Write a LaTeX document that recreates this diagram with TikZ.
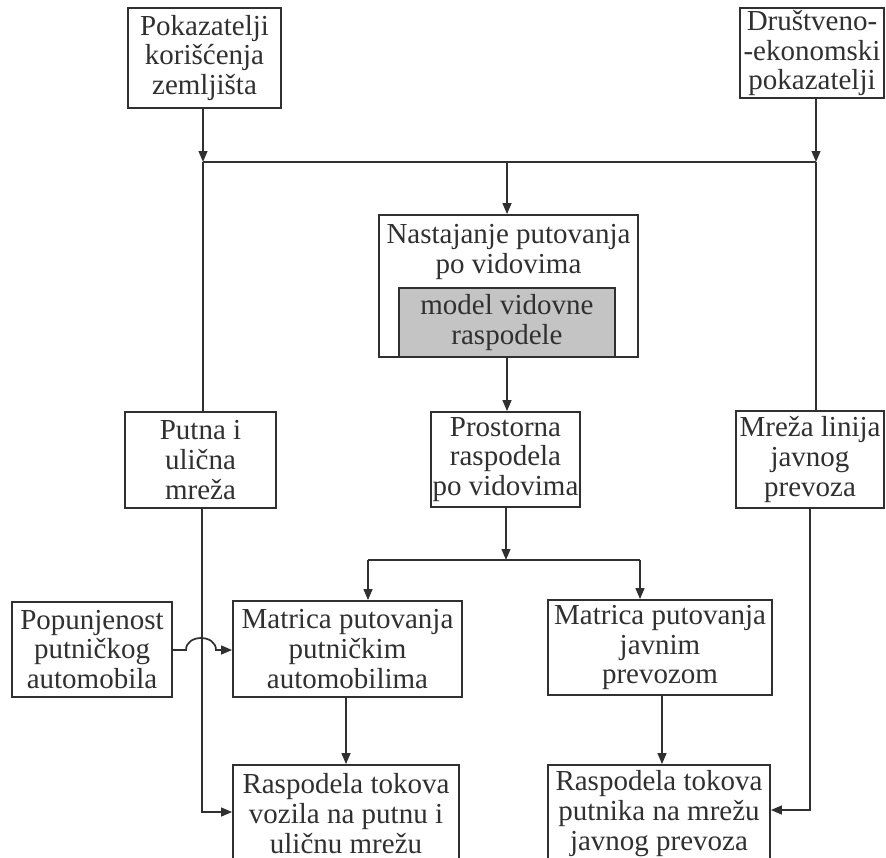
\documentclass[tikz,border=0pt]{standalone}
\usepackage{fontspec}
\setmainfont{Liberation Serif}
\usetikzlibrary{arrows.meta}
\definecolor{ink}{HTML}{303030}
\definecolor{screen}{HTML}{C4C4C4}
\tikzset{
  box/.style={draw=ink, line width=0.85pt, text=ink, align=center, inner sep=0pt,
    font=\fontsize{14.5}{14.8}\selectfont},
  sz/.style 2 args={minimum width=#1*0.5pt, minimum height=#2*0.5pt},
  txt/.style={text=ink, align=center, inner sep=0pt, font=\fontsize{14.5}{14.8}\selectfont},
  link/.style={draw=ink, line width=0.85pt},
  arr/.style={link, -{Triangle[length=5.5pt,width=4.4pt]}},
}
\begin{document}
\begin{tikzpicture}[x=0.5pt,y=-0.5pt]
\useasboundingbox (0,0) rectangle (886,857);
\fill[white] (0,0) rectangle (886,857);
\clip (0,0) rectangle (886,857);

% top inputs
\node[box, sz={153}{100}] (pok) at (204.5,58) {Pokazatelji\\korišćenja\\zemljišta};
\node[box, sz={144}{90}] (dru) at (812,53) {Društveno-\\-ekonomski\\pokazatelji};

% mode split stage with its model
\node[box, sz={259}{142}] (nas) at (508.5,286) {};
\node[txt] (nastxt) at (508.5,252) {Nastajanje putovanja\\po vidovima};
\node[box, fill=screen, sz={216}{69}] (mod) at (507,322.5) {model vidovne\\raspodele};

% middle row
\node[box, sz={151}{96}] (put) at (200.5,460) {Putna i\\ulična\\mreža};
\node[box, sz={149}{95}] (pro) at (505.5,459.5) {Prostorna\\raspodela\\po vidovima};
\node[box, sz={148}{97}] (mre) at (810,459.5) {Mreža linija\\javnog\\prevoza};

% trip matrices
\node[box, sz={160}{95}] (pop) at (92,649.5) {Popunjenost\\putničkog\\automobila};
\node[box, sz={229}{96}] (mpa) at (347.5,649) {Matrica putovanja\\putničkim\\automobilima};
\node[box, sz={224}{95}] (mjp) at (660,647.5) {Matrica putovanja\\javnim\\prevozom};

% assignment
\node[box, sz={226}{97}] (rvz) at (346,813.5) {Raspodela tokova\\vozila na putnu i\\uličnu mrežu};
\node[box, sz={222}{97}] (rpt) at (659,813.5) {Raspodela tokova\\putnika na mrežu\\javnog prevoza};

% collector line under the inputs
\coordinate (jl) at (203,162);
\coordinate (jr) at (816,162);
\coordinate (jm) at (507,162);
\draw[arr] (pok.south -| jl) -- (jl);
\draw[arr] (dru.south -| jr) -- (jr);
\draw[link] (jl) -- (jr);
\draw[arr] (jm) -- (jm |- nas.north);
\draw[link] (jl) -- (jl |- put.north);
\draw[link] (jr) -- (jr |- mre.north);

% mode split to spatial distribution
\coordinate (cm) at (507,0);
\draw[arr] (nas.south -| cm) -- (pro.north -| cm);
\coordinate (js) at (506,560);
\draw[arr] (pro.south -| js) -- (js);
\coordinate (jsl) at (368,560);
\coordinate (jsr) at (640,560);
\draw[link] (jsl) -- (jsr);
\draw[arr] (jsl) -- (jsl |- mpa.north);
\draw[arr] (jsr) -- (jsr |- mjp.north);

% occupancy input, hopping over the network line
\coordinate (hopa) at (186,650);
\coordinate (hopb) at (216,650);
\draw[arr] (pop.east |- hopa) -- (hopa) .. controls +(0,-16) and +(0,-16) .. (hopb) -- (mpa.west |- hopb);

% assignment inputs
\coordinate (bl) at (202,812);
\draw[arr] (put.south -| bl) -- (bl) -- (bl -| rvz.west);
\coordinate (cl) at (346,0);
\draw[arr] (mpa.south -| cl) -- (rvz.north -| cl);
\coordinate (cr) at (662,0);
\draw[arr] (mjp.south -| cr) -- (rpt.north -| cr);
\coordinate (br) at (810,810);
\draw[arr] (mre.south -| br) -- (br) -- (br -| rpt.east);
\end{tikzpicture}
\end{document}
